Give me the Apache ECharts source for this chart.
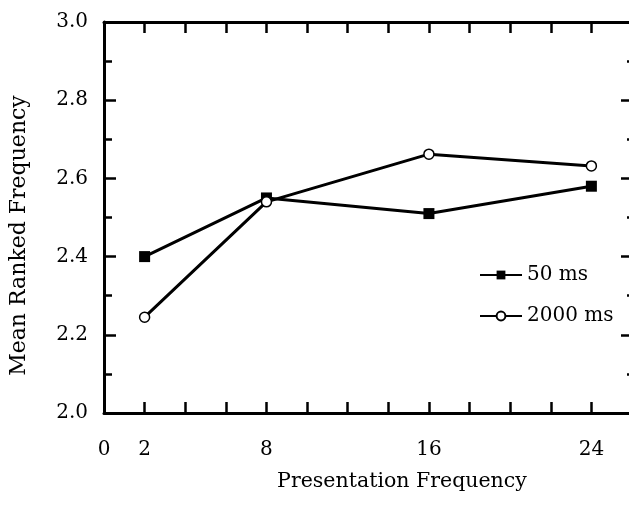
<!DOCTYPE html>
<html>
<head>
    <meta charset="utf-8">
    <title>ECharts</title>
    <script src="https://cdn.jsdelivr.net/npm/echarts@6/dist/echarts.min.js"></script>
</head>
<style>
    *{
        padding: 0;
        margin: 0;
    }
    #main {
        width: 629px;
        height: 510px;
        position: absolute;
        background: #fff;
    }
</style>
<body>
    <div id="main"></div>
    <script type="text/javascript">
    // data
    var frequencies = [2, 8, 16, 24];
    var ms50 = [2.40, 2.55, 2.51, 2.58];
    var ms2000 = [2.245, 2.54, 2.662, 2.632];
    var xTickLabels = [0, 2, 8, 16, 24];

    var font = 'DejaVu Serif';
    var axisLine = { show: true, onZero: false, lineStyle: { color: '#000', width: 3 } };

    function pairs(xs, ys) {
        return xs.map(function (x, i) { return [x, ys[i]]; });
    }

    var myChart = echarts.init(document.getElementById('main'));
    var option = {
        animation: false,
        backgroundColor: '#fff',
        grid: {
            left: 104,
            top: 22,
            width: 528,
            height: 391,
            outerBoundsMode: 'none'
        },
        legend: {
            orient: 'vertical',
            left: 474,
            top: 260,
            itemWidth: 42,
            itemHeight: 11,
            itemGap: 21,
            textStyle: { fontFamily: font, fontSize: 20, color: '#000' },
            data: ['50 ms', '2000 ms']
        },
        xAxis: [{
            type: 'value',
            position: 'bottom',
            min: 0,
            max: 26,
            interval: 2,
            name: 'Presentation Frequency',
            nameLocation: 'middle',
            nameGap: 58,
            nameTextStyle: { fontFamily: font, fontSize: 20.5, color: '#000', padding: [0, 0, 0, 68] },
            axisLine: axisLine,
            axisTick: { inside: true, length: 11, lineStyle: { color: '#000', width: 2.5 } },
            axisLabel: {
                margin: 27,
                fontFamily: font,
                fontSize: 20,
                color: '#000',
                formatter: function (v) {
                    return xTickLabels.indexOf(v) >= 0 ? String(v) : '';
                }
            },
            splitLine: { show: false }
        }, {
            type: 'value',
            position: 'top',
            min: 0,
            max: 26,
            interval: 2,
            axisLine: axisLine,
            axisTick: { inside: true, length: 11, lineStyle: { color: '#000', width: 2.5 } },
            axisLabel: { show: false },
            splitLine: { show: false }
        }],
        yAxis: [{
            type: 'value',
            position: 'left',
            min: 2.0,
            max: 3.0,
            interval: 0.2,
            name: 'Mean Ranked Frequency',
            nameLocation: 'middle',
            nameGap: 74,
            nameTextStyle: { fontFamily: font, fontSize: 22, color: '#000', padding: [0, 36, 0, 0] },
            axisLine: axisLine,
            axisTick: { inside: true, length: 12, lineStyle: { color: '#000', width: 2.5 } },
            minorTick: { show: true, splitNumber: 2, length: 8, lineStyle: { color: '#000', width: 2.5 } },
            axisLabel: {
                margin: 16,
                fontFamily: font,
                fontSize: 20,
                color: '#000',
                formatter: function (v) { return v.toFixed(1); }
            },
            splitLine: { show: false }
        }, {
            type: 'value',
            position: 'right',
            min: 2.0,
            max: 3.0,
            interval: 0.2,
            axisLine: axisLine,
            axisTick: { inside: true, length: 11, lineStyle: { color: '#000', width: 2.5 } },
            minorTick: { show: true, splitNumber: 2, length: 5, lineStyle: { color: '#000', width: 2.5 } },
            axisLabel: { show: false },
            splitLine: { show: false }
        }],
        series: [
            {
                name: '50 ms',
                type: 'line',
                data: pairs(frequencies, ms50),
                symbol: 'rect',
                symbolSize: 11,
                lineStyle: { color: '#000', width: 3 },
                itemStyle: { color: '#000' }
            },
            {
                name: '2000 ms',
                type: 'line',
                data: pairs(frequencies, ms2000),
                symbol: 'circle',
                symbolSize: 10,
                lineStyle: { color: '#000', width: 3 },
                itemStyle: { color: '#fff', borderColor: '#000', borderWidth: 1.5 }
            }
        ]
    };
    myChart.setOption(option);
    </script>
</body>
</html>
